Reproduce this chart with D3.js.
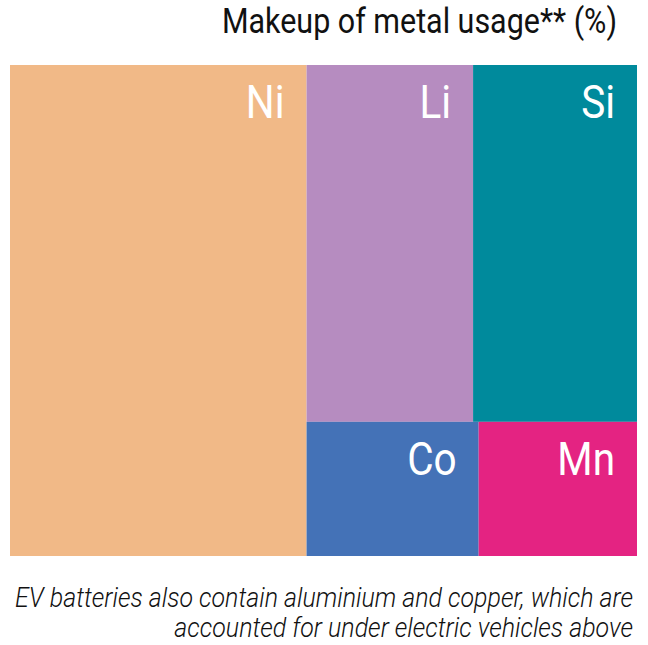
<!DOCTYPE html>
<html><head><meta charset="utf-8">
<script src="https://cdn.jsdelivr.net/npm/d3@7"></script>
<style>body{margin:0;background:#fff}svg{display:block}</style>
</head><body>
<svg id="c" width="648" height="645"></svg>
<script>
const metals = ["Ni", "Li", "Si", "Co", "Mn"];
const shares = [47.3, 19.3, 19.0, 7.5, 6.9];
const rowOf = ["A", "B", "B", "C", "C"];   // A: own column, B: top row, C: bottom row
const colors = ["#F1B987", "#B68CC0", "#008A9C", "#4472B7", "#E42382"];
const title = "Makeup of metal usage** (%)";
const notes = ["EV batteries also contain aluminium and copper, which are",
               "accounted for under electric vehicles above"];

const svg = d3.select("#c");
const fontF = "'Roboto','Liberation Sans',sans-serif";

const leaf = i => ({name: metals[i], value: shares[i], color: colors[i]});
const idx = d3.range(metals.length);
const tree = {name: "root", children: [
  ...idx.filter(i => rowOf[i] === "A").map(leaf),
  {name: "rest", children: [
    {name: "top", children: idx.filter(i => rowOf[i] === "B").map(leaf)},
    {name: "bottom", children: idx.filter(i => rowOf[i] === "C").map(leaf)}
  ]}
]};

const root = d3.hierarchy(tree).sum(d => d.value || 0);
d3.treemap().tile(d3.treemapSliceDice).size([627, 491]).round(false)(root);

const g = svg.append("g").attr("transform", "translate(10,65)");
const cells = g.selectAll("g.cell").data(root.leaves()).join("g").attr("class", "cell");
cells.append("rect")
  .attr("x", d => d.x0).attr("y", d => d.y0)
  .attr("width", d => d.x1 - d.x0).attr("height", d => d.y1 - d.y0)
  .attr("fill", d => d.data.color);
cells.append("text")
  .attr("transform", d => `translate(${d.x1 - 22},${d.y0 + 53}) scale(0.88,1)`)
  .attr("text-anchor", "end")
  .attr("fill", "#fff")
  .style("font-family", fontF).style("font-size", "46px")
  .text(d => d.data.name);

svg.append("text").attr("transform", "translate(617,33) scale(0.87,1)")
  .attr("text-anchor", "end")
  .style("font-family", fontF).style("font-size", "35px").attr("fill", "#111")
  .text(title);

svg.selectAll("text.note").data(notes).join("text").attr("class", "note")
  .attr("transform", (d, i) => `translate(633,${607 + i * 30}) scale(0.925,1)`)
  .attr("text-anchor", "end")
  .style("font-family", fontF).style("font-size", "27px").style("font-style", "italic")
  .style("font-weight", 300)
  .attr("fill", "#111")
  .text(d => d);
</script>
</body></html>
